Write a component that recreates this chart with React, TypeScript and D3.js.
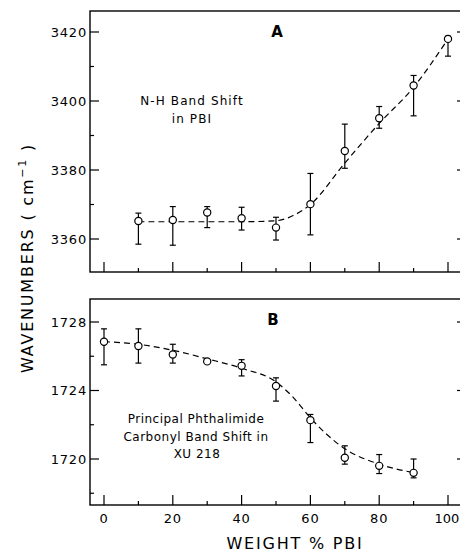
import React from "react";
import * as d3 from "d3";

// ---- Data ----
const weightA = [10, 20, 30, 40, 50, 60, 70, 80, 90, 100];
const nhValue = [3365.2, 3365.5, 3367.7, 3366, 3363.3, 3370.1, 3385.5, 3395, 3404.5, 3418];
const nhLow = [3358.5, 3358.2, 3363.3, 3362.6, 3359.7, 3361.2, 3380.5, 3392.1, 3395.7, 3413];
const nhHigh = [3367.5, 3369.4, 3369.4, 3369.2, 3366.3, 3379, 3393.3, 3398.4, 3407.4, 3418.8];
const nhCurveX = [10, 20, 30, 40, 50, 55, 60, 70, 80, 90, 100];
const nhCurveY = [3365, 3365, 3365, 3365, 3365.3, 3366.8, 3370, 3382, 3393.5, 3404, 3418];

const weightB = [0, 10, 20, 30, 40, 50, 60, 70, 80, 90];
const coValue = [1726.85, 1726.6, 1726.1, 1725.7, 1725.44, 1724.26, 1722.27, 1720.07, 1719.6, 1719.19];
const coLow = [1725.5, 1725.6, 1725.6, 1725.6, 1724.85, 1723.38, 1720.96, 1719.7, 1719.15, 1718.9];
const coHigh = [1727.6, 1727.6, 1726.7, 1725.8, 1725.8, 1724.74, 1722.6, 1720.77, 1720.26, 1720.0];
const coCurveX = [0, 10, 20, 30, 40, 50, 55, 60, 70, 80, 90];
const coCurveY = [1726.85, 1726.7, 1726.35, 1725.85, 1725.3, 1724.5, 1723.6, 1722.4, 1720.6, 1719.7, 1719.2];

const xTicks = [0, 20, 40, 60, 80, 100];
const xMinor = [10, 30, 50, 70, 90];
const yTicksA = [3360, 3380, 3400, 3420];
const yMinorA = [3370, 3390, 3410];
const yTicksB = [1720, 1724, 1728];
const yMinorB = [1718, 1722, 1726];

// ---- Layout ----
const W = 460, H = 552;
const frameL = 90, frameR = 463;
const aTop = 11, aBot = 272;
const bTop = 299, bBot = 505;

const x = d3.scaleLinear().domain([0, 100]).range([104, 448]);
const yA = d3.scaleLinear().domain([3360, 3420]).range([239, 32]);
const yB = d3.scaleLinear().domain([1720, 1728]).range([459, 322]);

const font = "'DejaVu Sans', sans-serif";

function Panel({ y, top, bot, yMajor, yMinor, xs, vals, lows, highs, cx, cy, showXLabels }: any) {
  const line = d3.line<number>().x((_, i) => x(cx[i])).y((d) => y(d)).curve(d3.curveMonotoneX);
  return (
    <g>
      <rect x={frameL} y={top} width={frameR - frameL} height={bot - top} fill="none" stroke="#000" strokeWidth={1.4} />
      {xTicks.map((t) => (
        <line key={"xt" + t} x1={x(t)} x2={x(t)} y1={bot} y2={bot - 10} stroke="#000" strokeWidth={1.2} />
      ))}
      {xMinor.map((t) => (
        <line key={"xm" + t} x1={x(t)} x2={x(t)} y1={bot} y2={bot - 4} stroke="#000" strokeWidth={1.2} />
      ))}
      {yMajor.map((t: number) => (
        <g key={"yt" + t}>
          <line x1={frameL} x2={frameL + 9} y1={y(t)} y2={y(t)} stroke="#000" strokeWidth={1.2} />
          <line x1={frameR} x2={frameR - 6} y1={y(t)} y2={y(t)} stroke="#000" strokeWidth={1.2} />
          <text x={87} y={y(t)} dy="0.36em" textAnchor="end" fontSize={13} letterSpacing={0.8} fontFamily={font}>{t}</text>
        </g>
      ))}
      {yMinor.map((t: number) => (
        <g key={"ym" + t}>
          <line x1={frameL} x2={frameL + 4} y1={y(t)} y2={y(t)} stroke="#000" strokeWidth={1.2} />
          <line x1={frameR} x2={frameR - 3} y1={y(t)} y2={y(t)} stroke="#000" strokeWidth={1.2} />
        </g>
      ))}
      {showXLabels && xTicks.map((t) => (
        <text key={"xl" + t} x={t === 100 ? x(t) - 1 : x(t)} y={523} textAnchor="middle" fontSize={13}
          letterSpacing={t === 100 ? 0 : 0.8} fontFamily={font}>{t}</text>
      ))}
      <path d={line(cy) || ""} fill="none" stroke="#000" strokeWidth={1.2} strokeDasharray="6,4" />
      {xs.map((xv: number, i: number) => (
        <g key={"p" + i}>
          <line x1={x(xv)} x2={x(xv)} y1={y(lows[i])} y2={y(highs[i])} stroke="#000" strokeWidth={1.2} />
          <line x1={x(xv) - 3} x2={x(xv) + 3} y1={y(lows[i])} y2={y(lows[i])} stroke="#000" strokeWidth={1.2} />
          <line x1={x(xv) - 3} x2={x(xv) + 3} y1={y(highs[i])} y2={y(highs[i])} stroke="#000" strokeWidth={1.2} />
          <circle cx={x(xv)} cy={y(vals[i])} r={3.6} fill="#fff" stroke="#000" strokeWidth={1.2} />
        </g>
      ))}
    </g>
  );
}

export default function App() {
  return (
    <svg width={W} height={H} style={{ position: "absolute", left: 0, top: 0, background: "#fff" }}>
      <rect x={0} y={0} width={W} height={H} fill="#fff" />
      <Panel y={yA} top={aTop} bot={aBot} yMajor={yTicksA} yMinor={yMinorA}
        xs={weightA} vals={nhValue} lows={nhLow} highs={nhHigh} cx={nhCurveX} cy={nhCurveY} showXLabels={false} />
      <Panel y={yB} top={bTop} bot={bBot} yMajor={yTicksB} yMinor={yMinorB}
        xs={weightB} vals={coValue} lows={coLow} highs={coHigh} cx={coCurveX} cy={coCurveY} showXLabels={true} />

      <text x={277} y={37} textAnchor="middle" fontSize={15} fontWeight="bold" fontFamily={font}>A</text>
      <text x={273} y={325} textAnchor="middle" fontSize={15} fontWeight="bold" fontFamily={font}>B</text>

      <text x={192} y={105} textAnchor="middle" fontSize={12} letterSpacing={1.1} fontFamily={font}>N-H Band Shift</text>
      <text x={192} y={123} textAnchor="middle" fontSize={12} letterSpacing={1.1} fontFamily={font}>in PBI</text>

      <text x={196} y={423} textAnchor="middle" fontSize={12} letterSpacing={0.5} fontFamily={font}>Principal Phthalimide</text>
      <text x={196} y={441} textAnchor="middle" fontSize={12} letterSpacing={0.5} fontFamily={font}>Carbonyl Band Shift in</text>
      <text x={197} y={458} textAnchor="middle" fontSize={12} letterSpacing={0.5} fontFamily={font}>XU 218</text>

      <text x={295} y={549} textAnchor="middle" fontSize={16} letterSpacing={1.8} fontFamily={font}>WEIGHT % PBI</text>

      <text transform="translate(33,258) rotate(-90)" textAnchor="middle" fontSize={16} letterSpacing={1.8} fontFamily={font}>
        WAVENUMBERS  ( cm<tspan dy={-7} fontSize={11}>−1</tspan><tspan dy={7}> )</tspan>
      </text>
    </svg>
  );
}
